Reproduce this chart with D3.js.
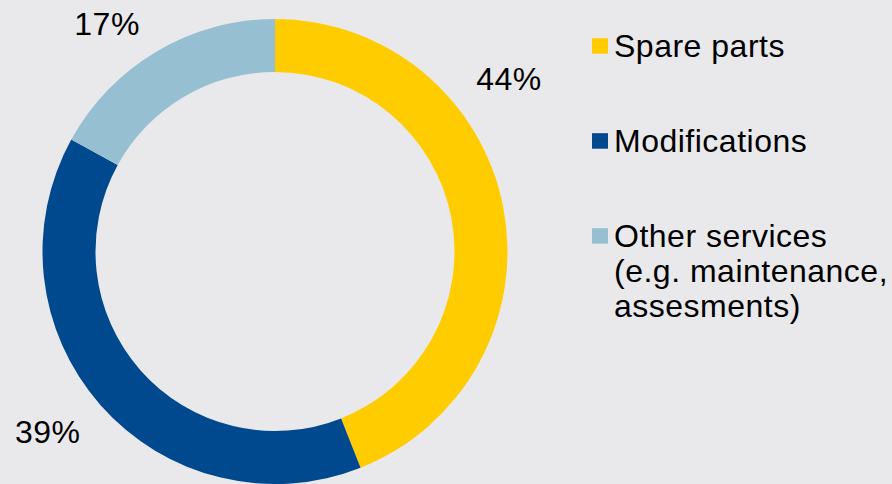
<!DOCTYPE html>
<html>
<head>
<meta charset="utf-8">
<script src="https://cdn.jsdelivr.net/npm/d3@7"></script>
<style>
  html, body { margin: 0; padding: 0; background: #e9e9ec; }
  svg { display: block; }
  text { font-family: "Liberation Sans", Arial, sans-serif; fill: #000; }
</style>
</head>
<body>
<svg id="chart" width="892" height="484"></svg>
<script>
// data
const categories = ['Spare parts', 'Modifications', 'Other services'];
const legendLines = [['Spare parts'], ['Modifications'], ['Other services', '(e.g. maintenance,', 'assesments)']];
const shares = [44, 39, 17];
const colors = ['#ffcc00', '#00498f', '#97bfd2'];

const width = 892, height = 484;
const svg = d3.select('#chart');

svg.append('rect')
    .attr('width', width)
    .attr('height', height)
    .attr('fill', '#e9e9ec');

// donut
const cx = 275, cy = 251.5;
const outerR = 232.5, innerR = 179.5;

const pie = d3.pie().sort(null).value(d => d);
const arc = d3.arc().innerRadius(innerR).outerRadius(outerR);

const g = svg.append('g').attr('transform', `translate(${cx}, ${cy})`);

g.selectAll('path')
    .data(pie(shares))
    .enter().append('path')
    .attr('d', arc)
    .attr('fill', (d, i) => colors[i]);

// percent labels sit outside the ring, placed by angle & distance from centre
const labelPlace = [
    {angle: 53.5, dist: 291, dy: 11.5},   // 44%
    {angle: 231.6, dist: 290, dy: 11.5},  // 39%
    {angle: 323.6, dist: 283, dy: 11.5}   // 17%
];
g.selectAll('.pct')
    .data(shares)
    .enter().append('text')
    .attr('class', 'pct')
    .attr('text-anchor', 'middle')
    .attr('x', (d, i) => labelPlace[i].dist * Math.sin(labelPlace[i].angle * Math.PI / 180))
    .attr('y', (d, i) => -labelPlace[i].dist * Math.cos(labelPlace[i].angle * Math.PI / 180) + labelPlace[i].dy)
    .style('font-size', '32px')
    .style('letter-spacing', '0.5px')
    .text(d => d + '%');

// legend
const legendY = [56.7, 151.7, 246.7];
const lineH = 35;
const legend = svg.append('g').attr('class', 'legend');

const items = legend.selectAll('.legend-item')
    .data(categories)
    .enter().append('g')
    .attr('class', 'legend-item')
    .attr('transform', (d, i) => `translate(592, ${legendY[i]})`);

items.append('rect')
    .attr('x', 0)
    .attr('y', -18.5)
    .attr('width', 16)
    .attr('height', 15.5)
    .attr('fill', (d, i) => colors[i]);

items.append('text')
    .attr('x', 22)
    .style('font-size', '32px')
    .style('letter-spacing', '0.5px')
    .selectAll('tspan')
    .data((d, i) => legendLines[i])
    .enter().append('tspan')
    .attr('x', 22)
    .attr('dy', (d, j) => j === 0 ? 0 : lineH)
    .text(d => d);
</script>
</body>
</html>
